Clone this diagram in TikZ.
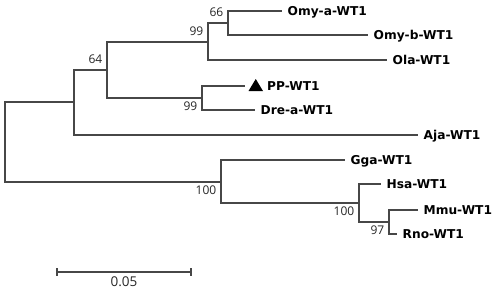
\documentclass[tikz,border=0pt]{standalone}
\usepackage{fontspec}
\newfontfamily\leaffont{DejaVu Sans}
\newfontfamily\numfont{Open Sans}
\begin{document}
\begin{tikzpicture}[x=1pt,y=-1pt,
  branch/.style={draw=black!72,line width=1.25pt},
  leaf/.style={anchor=base west,inner sep=0pt,xshift=5.5pt,yshift=-4.4pt,font=\leaffont\bfseries\fontsize{12.2}{12}\selectfont},
  bsup/.style={anchor=south east,inner sep=0pt,xshift=-4.5pt,yshift=6pt,font=\numfont\fontsize{12}{12}\selectfont,text=black!85},
  bsdn/.style={anchor=north east,inner sep=0pt,xshift=-4.5pt,yshift=-4pt,font=\numfont\fontsize{12}{12}\selectfont,text=black!85}]
\useasboundingbox (0,0) rectangle (498,293);
% internal nodes
\coordinate (r) at (5,142);
\coordinate (n1) at (74,102);
\coordinate (nB) at (107,70);
\coordinate (nA) at (208,42);
\coordinate (nC) at (228,23);
\coordinate (nD) at (202,98);
\coordinate (nE) at (221,182);
\coordinate (nF) at (359,203);
\coordinate (nG) at (389,222);
% leaves
\coordinate (omya) at (282,11);
\coordinate (omyb) at (368,35);
\coordinate (ola) at (387,60);
\coordinate (pp) at (245,86);
\coordinate (dre) at (255,110);
\coordinate (aja) at (418,135);
\coordinate (gga) at (345,160);
\coordinate (hsa) at (381,184);
\coordinate (mmu) at (418,210);
\coordinate (rno) at (397,234);
% branches
\path[branch] (r) |- (n1);
\path[branch] (r) |- (nE);
\path[branch] (n1) |- (nB);
\path[branch] (n1) |- (aja);
\path[branch] (nB) |- (nA);
\path[branch] (nB) |- (nD);
\path[branch] (nA) |- (nC);
\path[branch] (nA) |- (ola);
\path[branch] (nC) |- (omya);
\path[branch] (nC) |- (omyb);
\path[branch] (nD) |- (pp);
\path[branch] (nD) |- (dre);
\path[branch] (nE) |- (gga);
\path[branch] (nE) |- (nF);
\path[branch] (nF) |- (hsa);
\path[branch] (nF) |- (nG);
\path[branch] (nG) |- (mmu);
\path[branch] (nG) |- (rno);
% leaf labels
\node[leaf] (Lomya) at (omya) {Omy-a-WT1};
\node[leaf] (Lomyb) at (omyb) {Omy-b-WT1};
\node[leaf] (Lola) at (ola) {Ola-WT1};
\node[leaf,xshift=16.5pt] (Lpp) at (pp) {PP-WT1};
\node[leaf] (Ldre) at (dre) {Dre-a-WT1};
\node[leaf] (Laja) at (aja) {Aja-WT1};
\node[leaf] (Lgga) at (gga) {Gga-WT1};
\node[leaf] (Lhsa) at (hsa) {Hsa-WT1};
\node[leaf] (Lmmu) at (mmu) {Mmu-WT1};
\node[leaf] (Lrno) at (rno) {Rno-WT1};
% triangle marker
\fill[black] (248.5,91) -- (263,91) -- (255.75,79) -- cycle;
% bootstrap values
\node[bsup] (b66) at (nC) {66};
\node[bsup] (b99a) at (nA) {99};
\node[bsup] (b64) at (nB) {64};
\node[bsdn] (b99b) at (nD) {99};
\node[bsdn] (b100a) at (nE) {100};
\node[bsdn] (b100b) at (nF) {100};
\node[bsdn] (b97) at (nG) {97};
% scale bar
\coordinate (s1) at (57,272);
\coordinate (s2) at (191,272);
\path[branch] (s1) -- (s2);
\path[branch] ([yshift=4pt]s1) -- ([yshift=-4pt]s1);
\path[branch] ([yshift=4pt]s2) -- ([yshift=-4pt]s2);
\node[font=\numfont\fontsize{13.5}{13}\selectfont,text=black!85,anchor=base,inner sep=0pt] (sl) at (124,286.5) {0.05};
\end{tikzpicture}
\end{document}
